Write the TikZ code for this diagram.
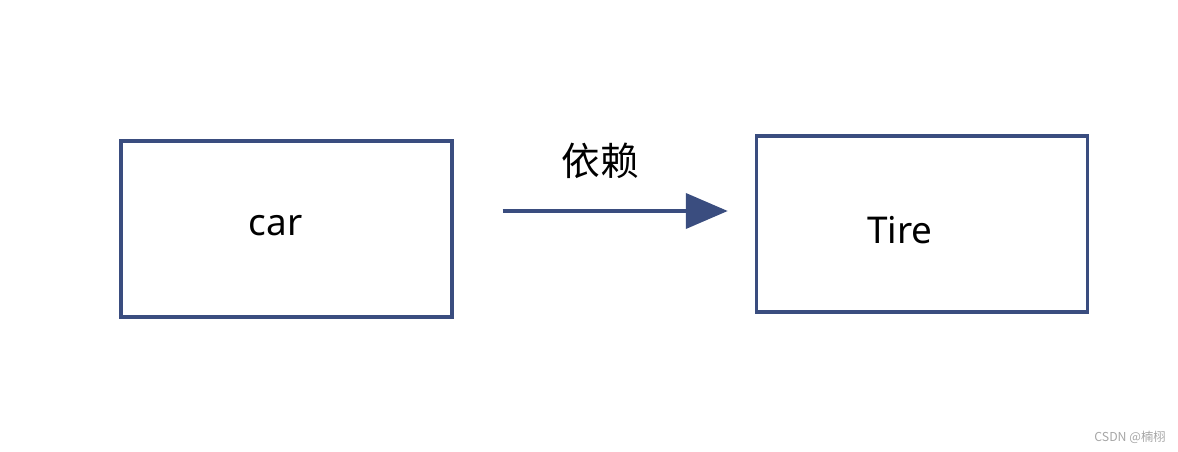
\documentclass[tikz,border=0pt]{standalone}
\usepackage{fontspec}
\setmainfont{Noto Sans}
\newfontfamily\cjk{Noto Sans CJK SC}
\usetikzlibrary{arrows.meta}
\definecolor{boxblue}{HTML}{3A4D7F}

\tikzset{
  box/.style={rectangle, draw=boxblue, line width=2pt, minimum width=6.62cm, minimum height=3.52cm},
  lbl/.style={font=\fontsize{21}{24}\selectfont, text=black},
  dep/.style={draw=boxblue, line width=2.3pt, -{Triangle[length=0.84cm, width=0.7cm]}}
}

\begin{document}
\begin{tikzpicture}[x=0.02cm, y=-0.02cm]
\useasboundingbox (0,0) rectangle (1178,452);

% the two classes
\node[box] (car) at (286.5,229) {};
\node[box] (tire) at (922,224) {};
\node[lbl] (cartext) at ([shift={(-11,-3)}]car.center) {car};
\node[lbl] (tiretext) at ([shift={(-22,6)}]tire.center) {Tire};

% dependency arrow
\coordinate (from) at ([shift={(49,-18)}]car.east);
\coordinate (to) at ([xshift=-0.54cm]from -| tire.west);
\draw[dep] (from) -- (to);
\node[font=\cjk\fontsize{22}{24}\selectfont] (deplbl) at (600,161) {依赖};

% watermark
\node[font=\cjk\fontsize{7}{8}\selectfont, text=gray!70] (mark) at (1130,437) {CSDN @楠栩};
\end{tikzpicture}
\end{document}
